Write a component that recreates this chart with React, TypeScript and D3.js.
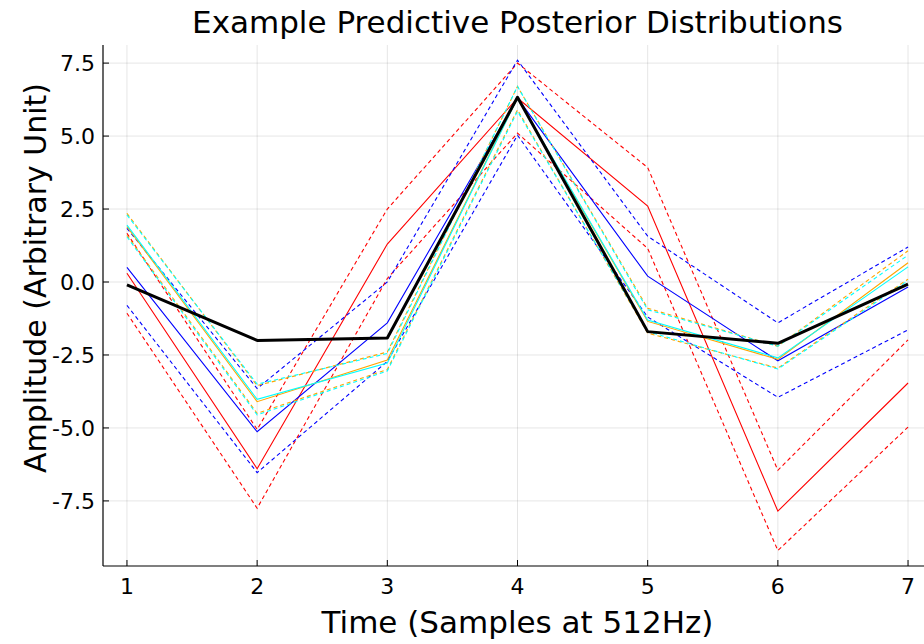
import React from "react";
import * as d3 from "d3";

const xs = [1, 2, 3, 4, 5, 6, 7];
const xTicks = [1, 2, 3, 4, 5, 6, 7];
const yTicks = [-7.5, -5.0, -2.5, 0.0, 2.5, 5.0, 7.5];

const redMean = [0.3, -6.4, 1.3, 6.3, 2.6, -7.85, -3.46];
const redUpper = [1.67, -5.05, 2.5, 7.5, 3.92, -6.45, -1.98];
const redLower = [-1.07, -7.75, 0.12, 5.1, 1.15, -9.2, -4.97];

const blueMean = [0.5, -5.13, -1.4, 6.3, 0.2, -2.7, -0.17];
const blueUpper = [1.84, -3.65, 0.0, 7.6, 1.57, -1.4, 1.2];
const blueLower = [-0.8, -6.53, -2.72, 5.03, -1.2, -3.95, -1.64];

const orangeMean = [1.9, -4.1, -2.67, 6.3, -1.35, -2.65, 0.66];
const orangeUpper = [2.35, -3.55, -2.4, 6.7, -0.9, -2.2, 1.07];
const orangeLower = [1.6, -4.5, -3.0, 5.9, -1.75, -2.95, 0.1];

const cyanMean = [1.95, -4.02, -2.78, 6.3, -1.3, -2.6, 0.52];
const cyanUpper = [2.3, -3.5, -2.45, 6.7, -0.95, -2.2, 0.92];
const cyanLower = [1.55, -4.55, -3.05, 5.85, -1.7, -2.98, 0.05];

const truth = [-0.1, -2.0, -1.92, 6.33, -1.7, -2.1, -0.07];

const seriesList = [
  { color: "#ff0000", mean: redMean, upper: redUpper, lower: redLower },
  { color: "#0000ff", mean: blueMean, upper: blueUpper, lower: blueLower },
  { color: "#ffa500", mean: orangeMean, upper: orangeUpper, lower: orangeLower },
  { color: "#00ffff", mean: cyanMean, upper: cyanUpper, lower: cyanLower },
];

const W = 924;
const H = 644;
const FONT = "DejaVu Sans";

export default function App() {
  const left = 103;
  const right = 932;
  const top = 45;
  const bottom = 566;
  const x = d3.scaleLinear().domain([0.816, 7.184]).range([left, right]);
  const y = d3.scaleLinear().domain([-9.73, 8.12]).range([bottom, top]);
  const line = (vals: number[]) =>
    d3.line<number>().x((_, i) => x(xs[i])).y((v) => y(v))(vals) as string;
  const fmtY = (t: number) => d3.format(".1f")(t).replace("\u2212", "-");

  return (
    <div style={{ position: "fixed", left: 0, top: 0 }}>
      <svg width={W} height={H} style={{ display: "block", background: "#fff" }}>
        <defs>
          <clipPath id="plotclip">
            <rect x={left} y={top} width={right - left} height={bottom - top} />
          </clipPath>
        </defs>
        {xTicks.map((t) => (
          <line key={"gx" + t} x1={x(t)} x2={x(t)} y1={top} y2={bottom} stroke="#000" strokeOpacity={0.1} strokeWidth={1} />
        ))}
        {yTicks.map((t) => (
          <line key={"gy" + t} x1={left} x2={right} y1={y(t)} y2={y(t)} stroke="#000" strokeOpacity={0.1} strokeWidth={1} />
        ))}
        <g clipPath="url(#plotclip)">
          {seriesList.map((s, i) => (
            <g key={i}>
              <path d={line(s.mean)} fill="none" stroke={s.color} strokeWidth={1.1} />
              <path d={line(s.upper)} fill="none" stroke={s.color} strokeWidth={1.1} strokeDasharray="4 3" />
              <path d={line(s.lower)} fill="none" stroke={s.color} strokeWidth={1.1} strokeDasharray="4 3" />
            </g>
          ))}
          <path d={line(truth)} fill="none" stroke="#000" strokeWidth={3} strokeLinejoin="round" />
        </g>
        <line x1={left} x2={right} y1={bottom} y2={bottom} stroke="#000" strokeWidth={1.2} />
        <line x1={left} x2={left} y1={top} y2={bottom} stroke="#000" strokeWidth={1.2} />
        {xTicks.map((t) => (
          <g key={"tx" + t}>
            <line x1={x(t)} x2={x(t)} y1={bottom} y2={bottom - 6} stroke="#000" strokeWidth={1} />
            <text x={x(t)} y={bottom + 28} textAnchor="middle" fontFamily={FONT} fontSize={22} fill="#000">
              {d3.format("d")(t)}
            </text>
          </g>
        ))}
        {yTicks.map((t) => (
          <g key={"ty" + t}>
            <line x1={left} x2={left + 6} y1={y(t)} y2={y(t)} stroke="#000" strokeWidth={1} />
            <text x={left - 8} y={y(t)} dy="0.36em" textAnchor="end" fontFamily={FONT} fontSize={22} fill="#000">
              {fmtY(t)}
            </text>
          </g>
        ))}
        <text x={(left + right) / 2} y={33} textAnchor="middle" fontFamily={FONT} fontSize={31} fill="#000">
          Example Predictive Posterior Distributions
        </text>
        <text x={(left + right) / 2} y={633} textAnchor="middle" fontFamily={FONT} fontSize={31} fill="#000">
          Time (Samples at 512Hz)
        </text>
        <text
          transform={`translate(46, 278) rotate(-90)`}
          textAnchor="middle"
          fontFamily={FONT}
          fontSize={30}
          fill="#000"
        >
          Amplitude (Arbitrary Unit)
        </text>
      </svg>
    </div>
  );
}
